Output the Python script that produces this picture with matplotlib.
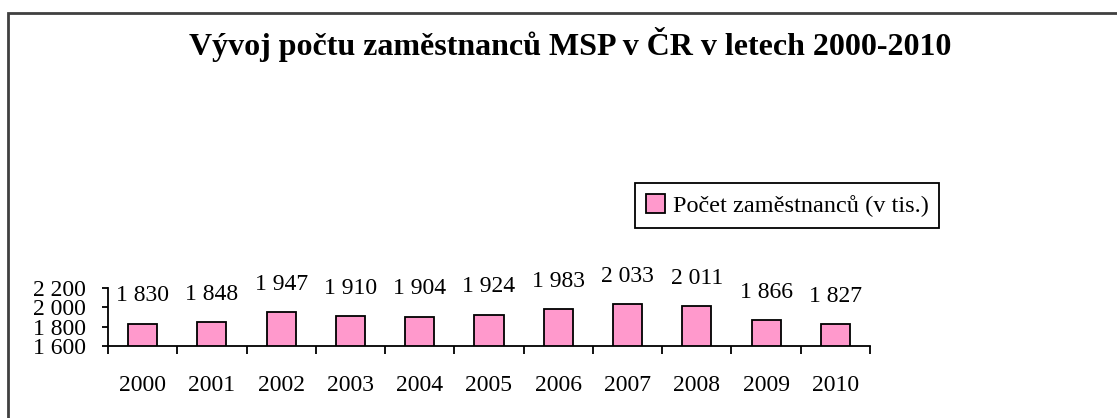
import matplotlib
matplotlib.use('Agg')
import matplotlib.pyplot as plt
from matplotlib.patches import Rectangle

# data
years = ['2000', '2001', '2002', '2003', '2004', '2005', '2006', '2007', '2008', '2009', '2010']
employees = [1830, 1848, 1947, 1910, 1904, 1924, 1983, 2033, 2011, 1866, 1827]
yticks = [1600, 1800, 2000, 2200]

title = 'Vývoj počtu zaměstnanců MSP v ČR v letech 2000-2010'
series_name = 'Počet zaměstnanců (v tis.)'


def fmt(v):
    # Czech style thousands separator (space)
    return '{:,}'.format(v).replace(',', ' ')


plt.rcParams['font.family'] = ['Liberation Serif', 'DejaVu Serif']

W, H = 1117, 418
fig = plt.figure(figsize=(W / 100, H / 100), dpi=100)
fig.patch.set_facecolor('white')

# outer chart frame (only top and left edge visible)
fig.patches.append(Rectangle((8 / W, -0.5), 2, 1.5 - 13 / H, transform=fig.transFigure,
                             fill=False, edgecolor='#404040', lw=2))

ax = fig.add_axes([108 / W, (H - 346) / H, (870 - 108) / W, (346 - 288) / H])
x = list(range(len(years)))
bars = ax.bar(x, employees, width=0.42, color='#FF99CC', edgecolor='black', linewidth=1.3,
              label=series_name)

for xi, v in zip(x, employees):
    ax.annotate(fmt(v), (xi, v), xytext=(0, 20), textcoords='offset points',
                ha='center', va='center', fontsize=17)

ax.set_xlim(-0.5, len(years) - 0.5)
ax.set_ylim(1600, 2200)
ax.set_yticks(yticks)
ax.set_yticklabels([fmt(t) for t in yticks], fontsize=17)
ax.tick_params(axis='y', length=4, width=1.3, pad=12)

ax.set_xticks(x)
ax.set_xticklabels(years, fontsize=17)
ax.set_xticks([i - 0.5 for i in range(len(years) + 1)], minor=True)
ax.tick_params(axis='x', which='major', length=0, pad=21)
ax.tick_params(axis='x', which='minor', length=6, width=1.3, direction='out')

for s in ['top', 'right']:
    ax.spines[s].set_visible(False)
for s in ['left', 'bottom']:
    ax.spines[s].set_linewidth(1.3)

fig.text(570 / W, 1 - 45 / H, title, ha='center', va='center', fontsize=23, fontweight='bold')

leg = fig.legend(handles=[bars], labels=[series_name], loc='upper left',
                 bbox_to_anchor=(635 / W, 1 - 183 / H), fontsize=17.5,
                 fancybox=False, framealpha=1, edgecolor='black',
                 handlelength=0.8, handleheight=0.8, handletextpad=0.3,
                 borderpad=0.45, borderaxespad=0)
leg.get_frame().set_linewidth(1.3)

fig.savefig('out.png', dpi=100)
